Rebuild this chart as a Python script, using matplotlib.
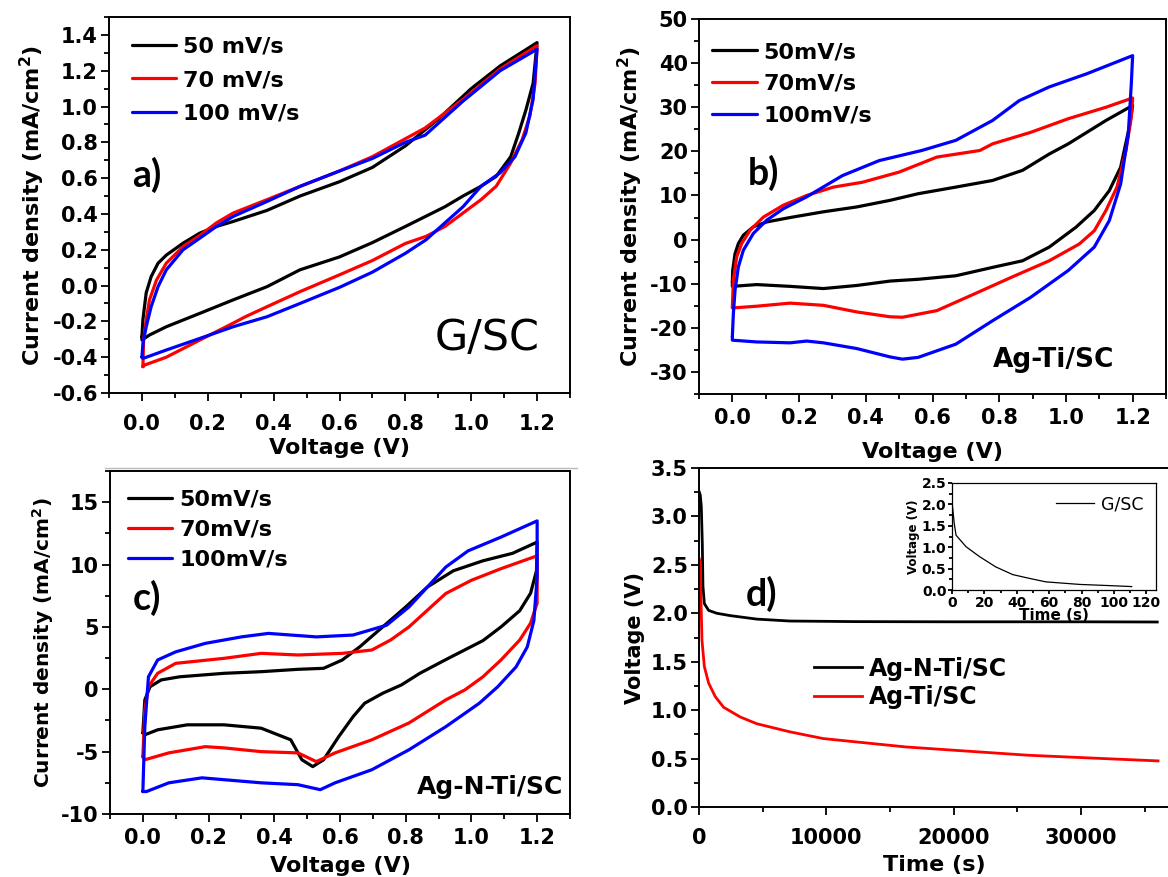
import matplotlib
matplotlib.use("Agg")
import matplotlib.pyplot as plt
from matplotlib.ticker import AutoMinorLocator, MultipleLocator, FormatStrFormatter
from matplotlib.lines import Line2D

plt.rcParams["font.family"] = ["DejaVu Sans"]
plt.rcParams["font.weight"] = "bold"
plt.rcParams["axes.unicode_minus"] = False

RATES_A = ["50 mV/s", "70 mV/s", "100 mV/s"]
RATES = ["50mV/s", "70mV/s", "100mV/s"]
COLORS = ["black", "red", "blue"]

# ---- a) G/SC : closed CV loops (forward 0 -> 1.2 V, then reverse)
va_50 = [0, 0.003, 0.013, 0.028, 0.049, 0.074, 0.125, 0.176, 0.226, 0.277, 0.38, 0.48, 0.6, 0.7, 0.8, 0.9, 1.0, 1.088, 1.2,
         1.188, 1.166, 1.144, 1.12, 1.076, 1.03, 0.975, 0.92, 0.8, 0.7, 0.6, 0.48, 0.38, 0.277, 0.176, 0.074, 0.023, 0, 0]
ia_50 = [-0.285, -0.19, -0.04, 0.05, 0.125, 0.17, 0.237, 0.293, 0.33, 0.358, 0.42, 0.5, 0.58, 0.66, 0.78, 0.93, 1.1, 1.227, 1.357,
         1.13, 0.98, 0.85, 0.72, 0.61, 0.555, 0.5, 0.44, 0.33, 0.24, 0.16, 0.088, -0.006, -0.08, -0.155, -0.23, -0.276, -0.304, -0.285]
va_70 = [0.003, 0.005, 0.013, 0.023, 0.044, 0.074, 0.125, 0.176, 0.226, 0.277, 0.38, 0.48, 0.6, 0.7, 0.8, 0.86, 0.975, 1.088, 1.2,
         1.194, 1.178, 1.155, 1.12, 1.076, 1.03, 0.975, 0.92, 0.863, 0.8, 0.7, 0.6, 0.48, 0.38, 0.313, 0.277, 0.176, 0.074, 0.008, 0.003]
ia_70 = [-0.453, -0.304, -0.19, -0.08, 0.03, 0.125, 0.218, 0.28, 0.35, 0.405, 0.48, 0.554, 0.64, 0.72, 0.82, 0.88, 1.04, 1.21, 1.34,
         1.13, 0.947, 0.816, 0.685, 0.555, 0.48, 0.405, 0.33, 0.275, 0.235, 0.14, 0.06, -0.034, -0.118, -0.175, -0.21, -0.304, -0.4, -0.444, -0.453]
va_100 = [0, 0.003, 0.013, 0.028, 0.049, 0.074, 0.125, 0.176, 0.226, 0.277, 0.38, 0.48, 0.6, 0.7, 0.8, 0.86, 0.975, 1.088, 1.2,
          1.188, 1.166, 1.133, 1.088, 1.03, 0.975, 0.92, 0.863, 0.8, 0.7, 0.6, 0.48, 0.38, 0.277, 0.176, 0.074, 0.003, 0]
ia_100 = [-0.4, -0.323, -0.23, -0.118, -0.006, 0.088, 0.2, 0.265, 0.33, 0.386, 0.47, 0.554, 0.64, 0.71, 0.8, 0.84, 1.03, 1.2, 1.32,
          1.04, 0.853, 0.72, 0.63, 0.555, 0.44, 0.35, 0.256, 0.18, 0.075, -0.01, -0.1, -0.174, -0.23, -0.295, -0.36, -0.407, -0.4]

# ---- b) Ag-Ti/SC
vb_50 = [0, 0.001, 0.008, 0.018, 0.033, 0.063, 0.103, 0.173, 0.273, 0.373, 0.473, 0.557, 0.67, 0.78, 0.87, 0.95, 1.007, 1.12, 1.2,
         1.19, 1.164, 1.13, 1.085, 1.03, 0.95, 0.87, 0.78, 0.67, 0.557, 0.473, 0.373, 0.273, 0.173, 0.073, 0, 0]
ib_50 = [-9.6, -7.0, -3.2, -0.9, 1.0, 2.9, 4.0, 5.0, 6.3, 7.4, 8.9, 10.4, 11.9, 13.4, 15.7, 19.4, 21.7, 27.0, 30.4,
         25.5, 16.4, 11.1, 6.6, 2.8, -1.7, -4.8, -6.3, -8.2, -9.0, -9.4, -10.4, -11.1, -10.6, -10.2, -10.6, -9.6]
vb_70 = [0, 0.003, 0.013, 0.028, 0.053, 0.093, 0.153, 0.223, 0.303, 0.39, 0.5, 0.613, 0.742, 0.78, 0.894, 1.007, 1.12, 1.2,
         1.196, 1.18, 1.153, 1.12, 1.085, 1.04, 0.95, 0.838, 0.726, 0.613, 0.51, 0.473, 0.373, 0.273, 0.173, 0.073, 0, 0]
ib_70 = [-15.3, -9.2, -3.9, -0.9, 2.1, 5.1, 7.8, 10.0, 11.9, 13.0, 15.3, 18.7, 20.2, 21.7, 24.3, 27.4, 30.0, 32.1,
         27.7, 20.2, 11.9, 6.6, 2.0, -1.0, -4.8, -8.5, -12.3, -16.1, -17.6, -17.5, -16.4, -14.9, -14.4, -15.1, -15.5, -15.3]
vb_100 = [0, 0.003, 0.008, 0.018, 0.033, 0.063, 0.103, 0.153, 0.223, 0.33, 0.44, 0.568, 0.67, 0.78, 0.86, 0.95, 1.063, 1.2,
          1.196, 1.187, 1.164, 1.13, 1.085, 1.007, 0.894, 0.78, 0.67, 0.557, 0.51, 0.473, 0.373, 0.273, 0.223, 0.173, 0.073, 0, 0]
ib_100 = [-22.0, -16.8, -11.5, -6.2, -2.4, 1.4, 4.4, 7.0, 9.7, 14.5, 17.9, 20.2, 22.5, 27.0, 31.5, 34.6, 37.6, 41.7,
          35.3, 24.0, 12.6, 4.3, -1.7, -7.0, -13.1, -18.4, -23.7, -26.7, -27.1, -26.6, -24.7, -23.4, -23.0, -23.4, -23.2, -22.8, -22.0]

# ---- c) Ag-N-Ti/SC
vc_50 = [0, 0.006, 0.022, 0.056, 0.112, 0.247, 0.36, 0.472, 0.55, 0.607, 0.66, 0.73, 0.8, 0.866, 0.945, 1.035, 1.125, 1.2,
         1.198, 1.18, 1.147, 1.09, 1.035, 0.92, 0.843, 0.787, 0.73, 0.675, 0.64, 0.596, 0.55, 0.517, 0.484, 0.45, 0.36, 0.247, 0.135, 0.045, 0.006, 0]
ic_50 = [-3.5, -0.85, 0.21, 0.75, 1.0, 1.28, 1.41, 1.6, 1.68, 2.35, 3.4, 5.0, 6.6, 8.2, 9.5, 10.3, 10.9, 11.8,
         9.5, 7.7, 6.3, 5.0, 3.9, 2.35, 1.28, 0.35, -0.32, -1.12, -2.19, -3.8, -5.65, -6.2, -5.65, -4.05, -3.12, -2.85, -2.85, -3.25, -3.65, -3.5]
vc_70 = [0, 0.006, 0.017, 0.045, 0.1, 0.247, 0.36, 0.472, 0.607, 0.697, 0.754, 0.81, 0.866, 0.922, 1.0, 1.09, 1.2,
         1.2, 1.18, 1.147, 1.09, 1.035, 0.98, 0.922, 0.81, 0.697, 0.585, 0.528, 0.472, 0.36, 0.247, 0.19, 0.079, 0.006, 0]
ic_70 = [-5.4, -1.65, 0.21, 1.28, 2.08, 2.48, 2.88, 2.75, 2.88, 3.15, 3.95, 5.0, 6.34, 7.68, 8.74, 9.67, 10.7,
         6.9, 5.3, 3.95, 2.35, 1.0, -0.05, -0.85, -2.7, -4.05, -5.1, -5.8, -5.1, -5.0, -4.7, -4.6, -5.1, -5.65, -5.4]
vc_100 = [0, 0.006, 0.017, 0.045, 0.1, 0.19, 0.3, 0.382, 0.528, 0.64, 0.742, 0.81, 0.866, 0.922, 0.99, 1.09, 1.2,
          1.2, 1.19, 1.17, 1.136, 1.08, 1.024, 0.922, 0.81, 0.697, 0.585, 0.54, 0.472, 0.36, 0.247, 0.18, 0.079, 0.011, 0]
ic_100 = [-8.2, -3.0, 1.0, 2.35, 3.0, 3.68, 4.2, 4.48, 4.2, 4.35, 5.14, 6.6, 8.2, 9.8, 11.1, 12.2, 13.5,
          9.0, 5.5, 3.4, 1.8, 0.2, -1.12, -3.0, -4.85, -6.45, -7.5, -8.05, -7.65, -7.5, -7.25, -7.1, -7.5, -8.2, -8.2]

# ---- d) self-discharge
td_agnti = [0, 100, 180, 260, 310, 420, 755, 1400, 2450, 4530, 7140, 12340, 20000, 30000, 36000]
vd_agnti = [3.26, 3.22, 3.1, 2.72, 2.28, 2.10, 2.03, 2.0, 1.976, 1.94, 1.92, 1.914, 1.912, 1.912, 1.91]
td_agti = [30, 100, 156, 234, 420, 755, 1276, 1930, 3230, 4530, 7140, 9740, 12340, 16250, 20040, 25900, 31800, 36060]
vd_agti = [2.56, 2.5, 2.14, 1.72, 1.45, 1.28, 1.14, 1.03, 0.93, 0.86, 0.776, 0.707, 0.672, 0.62, 0.586, 0.534, 0.5, 0.476]
# inset G/SC
t_gsc = [0, 1.4, 2.5, 8.7, 17, 27, 37.5, 48, 58, 79, 99, 111]
v_gsc = [2.06, 1.55, 1.28, 1.01, 0.78, 0.54, 0.36, 0.27, 0.19, 0.13, 0.10, 0.08]

W, H = 1168, 877
fig = plt.figure(figsize=(W / 100, H / 100), dpi=100)


def px_axes(l, t, r, b):
    return fig.add_axes([l / W, 1 - b / H, (r - l) / W, (b - t) / H])


def style(ax, tick_fs=15, xpad=4):
    for s in ax.spines.values():
        s.set_linewidth(1.4)
    ax.tick_params(which="both", direction="out", top=False, right=False,
                   labelsize=tick_fs, width=1.3)
    ax.tick_params(which="major", length=6)
    ax.tick_params(which="minor", length=3.5)
    ax.tick_params(axis="x", pad=xpad)
    ax.tick_params(axis="y", pad=2)
    ax.xaxis.set_minor_locator(AutoMinorLocator(2))
    ax.yaxis.set_minor_locator(AutoMinorLocator(2))
    for lab in ax.get_xticklabels() + ax.get_yticklabels():
        lab.set_fontweight("bold")


def cv_axes(ax, ymajor, ylim, ylabel_fs, xlabelpad):
    ax.set_xlim(-0.1, 1.3)
    ax.set_ylim(*ylim)
    ax.xaxis.set_major_locator(MultipleLocator(0.2))
    ax.yaxis.set_major_locator(MultipleLocator(ymajor))
    ax.xaxis.set_major_formatter(FormatStrFormatter("%.1f"))
    ax.set_xlabel("Voltage (V)", fontsize=16, fontweight="bold", labelpad=xlabelpad)
    ax.set_ylabel("Current density (mA/cm$^\\mathbf{2}$)", fontsize=ylabel_fs, fontweight="bold", labelpad=4)


def cv_legend(ax, spacing, anchor):
    ax.legend(loc="upper left", frameon=False, fontsize=16, handlelength=2.0, handletextpad=0.3,
              labelspacing=spacing, borderaxespad=0.2, bbox_to_anchor=anchor)


lw = 2.3
kw = dict(lw=lw, solid_joinstyle="round", solid_capstyle="round")

# a)
ax = px_axes(109, 17, 570, 393)
for v, i, c, lab in zip([va_50, va_70, va_100], [ia_50, ia_70, ia_100], COLORS, RATES_A):
    ax.plot(v, i, color=c, label=lab, **kw)
cv_axes(ax, 0.2, (-0.6, 1.5), 16, 3)
ax.yaxis.set_major_formatter(FormatStrFormatter("%.1f"))
style(ax, xpad=9)
cv_legend(ax, 0.62, (0.02, 0.984))
ax.text(0.05, 0.58, "a)", transform=ax.transAxes, fontsize=27, fontweight="bold",
        family="Lato", va="center")
ax.text(0.935, 0.145, "G/SC", transform=ax.transAxes, fontsize=31, fontweight="normal",
        ha="right", va="center")

# b)
ax = px_axes(699, 19, 1166, 394)
for v, i, c, lab in zip([vb_50, vb_70, vb_100], [ib_50, ib_70, ib_100], COLORS, RATES):
    ax.plot(v, i, color=c, label=lab, **kw)
cv_axes(ax, 10, (-35, 50), 16, 10)
style(ax, xpad=4)
cv_legend(ax, 0.53, (0.0, 0.974))
ax.text(0.105, 0.59, "b)", transform=ax.transAxes, fontsize=27, fontweight="bold",
        family="Lato", va="center")
ax.text(0.89, 0.09, "Ag-Ti/SC", transform=ax.transAxes, fontsize=19, fontweight="bold",
        ha="right", va="center")

# c)
ax = px_axes(110, 471, 570, 814)
for v, i, c, lab in zip([vc_50, vc_70, vc_100], [ic_50, ic_70, ic_100], COLORS, RATES):
    ax.plot(v, i, color=c, label=lab, **kw)
cv_axes(ax, 5, (-10, 17.5), 14.5, 6)
style(ax, xpad=4)
cv_legend(ax, 0.44, (0.01, 0.984))
ax.text(0.05, 0.63, "c)", transform=ax.transAxes, fontsize=27, fontweight="bold",
        family="Lato", va="center")
ax.text(0.985, 0.08, "Ag-N-Ti/SC", transform=ax.transAxes, fontsize=18, fontweight="bold",
        ha="right", va="center")

# d)
ax = px_axes(699, 468, 1170, 807)
ax.plot(td_agnti, vd_agnti, color="black", lw=2.0, label="Ag-N-Ti/SC", solid_joinstyle="round")
ax.plot(td_agti, vd_agti, color="red", lw=2.0, label="Ag-Ti/SC", solid_joinstyle="round")
ax.set_xlim(0, 37000)
ax.set_ylim(0, 3.5)
ax.xaxis.set_major_locator(MultipleLocator(10000))
ax.yaxis.set_major_locator(MultipleLocator(0.5))
ax.yaxis.set_major_formatter(FormatStrFormatter("%.1f"))
ax.spines["right"].set_visible(False)
ax.set_xlabel("Time (s)", fontsize=16, fontweight="bold", labelpad=5)
ax.set_ylabel("Voltage (V)", fontsize=15, fontweight="bold", labelpad=4)
style(ax, xpad=9)
ax.legend(loc="center left", frameon=False, fontsize=17, handlelength=2.0, handletextpad=0.3,
          labelspacing=0.2, bbox_to_anchor=(0.2, 0.366))
ax.text(0.1, 0.63, "d)", transform=ax.transAxes, fontsize=27, fontweight="bold",
        family="Lato", va="center")

# inset
ins = px_axes(952, 483, 1156, 590)
ins.plot(t_gsc, v_gsc, color="black", lw=0.9, label="G/SC")
ins.set_xlim(0, 126)
ins.set_ylim(0, 2.5)
ins.xaxis.set_major_locator(MultipleLocator(20))
ins.yaxis.set_major_locator(MultipleLocator(0.5))
ins.yaxis.set_major_formatter(FormatStrFormatter("%.1f"))
style(ins, tick_fs=10, xpad=1)
ins.tick_params(which="major", length=3)
ins.tick_params(which="minor", length=2)
ins.tick_params(axis="y", pad=1)
ins.set_xlabel("Time (s)", fontsize=11, fontweight="bold", labelpad=-1)
ins.set_ylabel("Voltage (V)", fontsize=8.5, fontweight="bold", labelpad=1)
for s in ins.spines.values():
    s.set_linewidth(0.9)
ins.legend(loc="upper right", frameon=False, prop={"size": 12.5, "weight": "normal"},
           handlelength=2.2, handletextpad=0.4, borderaxespad=0.3)

# faint separator line below panel a (from the composite)
fig.add_artist(Line2D([105 / W, 577 / W], [1 - 468 / H, 1 - 468 / H], color="#bbbbbb", lw=1.0))

fig.savefig("out.png", dpi=100)
